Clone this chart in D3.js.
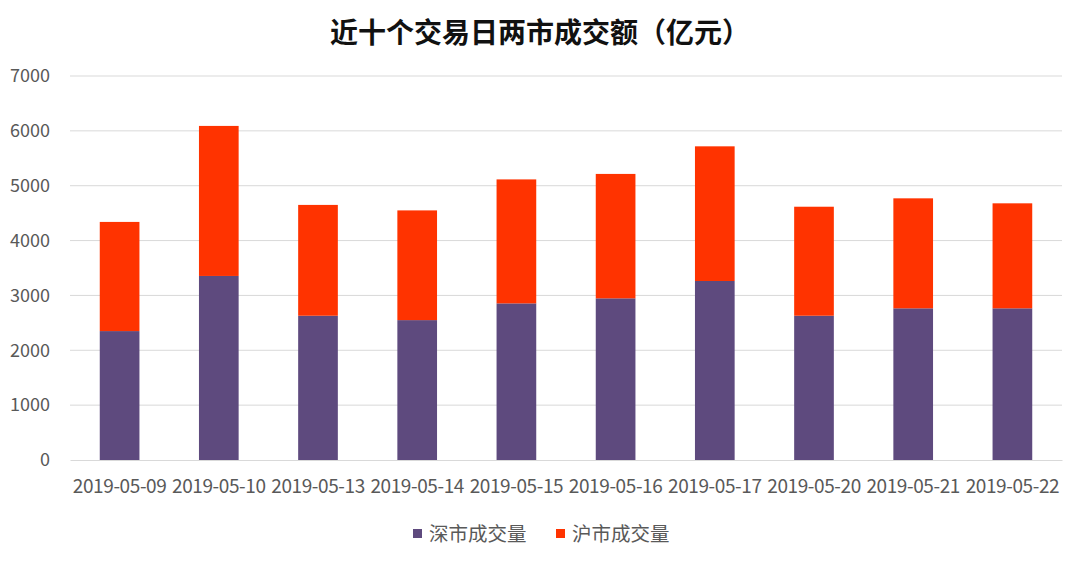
<!DOCTYPE html>
<html><head><meta charset="utf-8">
<script src="https://cdn.jsdelivr.net/npm/d3@7/dist/d3.min.js"></script>
<style>body{margin:0;background:#fff;} svg{display:block;}</style>
</head><body>
<script>
const categories = ["2019-05-09","2019-05-10","2019-05-13","2019-05-14","2019-05-15","2019-05-16","2019-05-17","2019-05-20","2019-05-21","2019-05-22"];
const shenzhen = [2350, 3355, 2630, 2550, 2855, 2947, 3263, 2630, 2765, 2765];
const shanghai = [1990, 2735, 2020, 2000, 2260, 2268, 2455, 1987, 2005, 1914];
const yTicks = [0,1000,2000,3000,4000,5000,6000,7000];
const seriesNames = ["深市成交量","沪市成交量"];
const colors = ["#5e4a7e","#ff3300"];

const W=1080,H=563;
const m={left:70,right:18,top:76,bottom:103};
const svg=d3.select("body").append("svg").attr("width",W).attr("height",H);
const font="'Noto Sans CJK SC','Noto Sans',sans-serif";

const x=d3.scaleBand().domain(categories).range([m.left,W-m.right]).paddingInner(0.6).paddingOuter(0.3);
const y=d3.scaleLinear().domain([0,7000]).range([H-m.bottom,m.top]);

svg.append("g").selectAll("line").data(yTicks.slice(1)).join("line")
 .attr("x1",m.left).attr("x2",W-m.right).attr("y1",d=>y(d)).attr("y2",d=>y(d))
 .attr("stroke","#d9d9d9").attr("stroke-width",1);

const yAxis=svg.append("g").attr("transform",`translate(${m.left},0)`)
 .call(d3.axisLeft(y).tickValues(yTicks).tickSize(0).tickPadding(20).tickFormat(d3.format("d")));
yAxis.select(".domain").remove();
yAxis.selectAll("text").attr("font-family",font).attr("font-size",18).attr("fill","#595959");

const stackData=categories.map((c,i)=>({cat:c,s0:shenzhen[i],s1:shanghai[i]}));
const stack=d3.stack().keys(["s0","s1"])(stackData);
svg.append("g").selectAll("g").data(stack).join("g").attr("fill",(d,i)=>colors[i])
 .selectAll("rect").data(d=>d).join("rect")
 .attr("x",d=>x(d.data.cat)).attr("width",x.bandwidth())
 .attr("y",d=>y(d[1])).attr("height",d=>y(d[0])-y(d[1]));

const xAxis=svg.append("g").attr("transform",`translate(0,${y(0)})`)
 .call(d3.axisBottom(x).tickSize(0).tickPadding(20));
xAxis.select(".domain").attr("stroke","#d9d9d9");
xAxis.selectAll("text").attr("font-family",font).attr("font-size",19).attr("fill","#595959").attr("letter-spacing",-0.4);

svg.append("text").attr("x",540).attr("y",43).attr("text-anchor","middle")
 .attr("font-family",font).attr("font-weight","bold").attr("font-size",28).attr("fill","#111")
 .text("近十个交易日两市成交额（亿元）");

const lg=svg.append("g");
const lx=[413,556];
seriesNames.forEach((n,i)=>{
  lg.append("rect").attr("x",lx[i]).attr("y",529).attr("width",9).attr("height",9).attr("fill",colors[i]);
  lg.append("text").attr("x",lx[i]+16).attr("y",541).attr("font-family",font).attr("font-size",19.5).attr("fill","#595959").text(n);
});
</script>
</body></html>
